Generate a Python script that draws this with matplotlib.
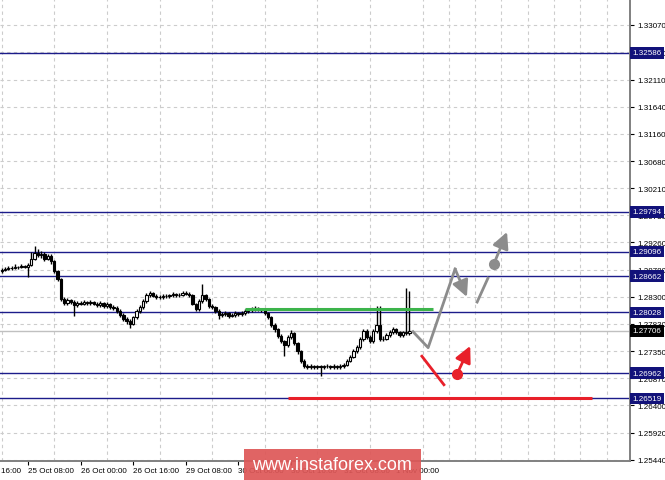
import matplotlib
matplotlib.use("Agg")
import matplotlib.pyplot as plt
from matplotlib.patches import Rectangle

plt.rcParams['font.family'] = ['Liberation Sans', 'DejaVu Sans']

# H1 bars, x = hours since 25 Oct 00:00 (trading hours only)
opens = [1.2876, 1.2877, 1.2879, 1.2881, 1.2881, 1.2883, 1.2882, 1.2884, 1.2883, 1.2886,
         1.2897, 1.2907, 1.2904, 1.2905, 1.2897, 1.2902, 1.2893, 1.2876, 1.2862, 1.2826,
         1.2819, 1.2825, 1.2821, 1.2816, 1.2819, 1.2818, 1.2821, 1.2819, 1.2821, 1.2818,
         1.2816, 1.2819, 1.2814, 1.2818, 1.2812, 1.2811, 1.2805, 1.2798, 1.2791, 1.2788,
         1.2783, 1.2795, 1.2805, 1.2812, 1.2823, 1.2833, 1.2837, 1.2832, 1.2830, 1.2830,
         1.2832, 1.2831, 1.2833, 1.2835, 1.2833, 1.2834, 1.2837, 1.2836, 1.2833, 1.2818,
         1.2809, 1.2823, 1.2833, 1.2826, 1.2814, 1.2812, 1.2805, 1.2798, 1.2800, 1.2802,
         1.2797, 1.2798, 1.2802, 1.2800, 1.2802, 1.2805, 1.2807, 1.2809, 1.2811, 1.2809,
         1.2807, 1.2802, 1.2795, 1.2781, 1.2774, 1.2762, 1.2753, 1.2746, 1.2760, 1.2767,
         1.2749, 1.2735, 1.2718, 1.2709, 1.2707, 1.2709, 1.2707, 1.2708, 1.2707, 1.2708,
         1.2709, 1.2707, 1.2709, 1.2707, 1.2709, 1.2711, 1.2718, 1.2725, 1.2735, 1.2742,
         1.2756, 1.2770, 1.2760, 1.2753, 1.2770, 1.2781, 1.2756, 1.2757, 1.2763, 1.2768,
         1.2774, 1.2768, 1.2763, 1.2768, 1.2767]
highs = [1.2880, 1.2882, 1.2884, 1.2885, 1.2887, 1.2885, 1.2888, 1.2886, 1.2890, 1.2908,
         1.2920, 1.2914, 1.2910, 1.2908, 1.2906, 1.2905, 1.2895, 1.2878, 1.2864, 1.2829,
         1.2828, 1.2827, 1.2824, 1.2822, 1.2822, 1.2824, 1.2823, 1.2824, 1.2823, 1.2821,
         1.2822, 1.2821, 1.2821, 1.2820, 1.2815, 1.2814, 1.2808, 1.2801, 1.2794, 1.2791,
         1.2797, 1.2808, 1.2815, 1.2826, 1.2837, 1.2841, 1.2839, 1.2835, 1.2834, 1.2835,
         1.2835, 1.2836, 1.2838, 1.2837, 1.2837, 1.2840, 1.2841, 1.2839, 1.2835, 1.2820,
         1.2826, 1.2853, 1.2836, 1.2828, 1.2817, 1.2814, 1.2808, 1.2803, 1.2805, 1.2804,
         1.2801, 1.2805, 1.2804, 1.2805, 1.2808, 1.2810, 1.2812, 1.2814, 1.2813, 1.2811,
         1.2809, 1.2804, 1.2797, 1.2784, 1.2776, 1.2765, 1.2755, 1.2763, 1.2772, 1.2769,
         1.2751, 1.2737, 1.2721, 1.2712, 1.2712, 1.2711, 1.2711, 1.2711, 1.2711, 1.2712,
         1.2711, 1.2712, 1.2711, 1.2712, 1.2714, 1.2721, 1.2728, 1.2738, 1.2746, 1.2760,
         1.2774, 1.2773, 1.2763, 1.2774, 1.2814, 1.2814, 1.2761, 1.2767, 1.2772, 1.2777,
         1.2776, 1.2770, 1.2771, 1.2846, 1.2840]
lows = [1.2872, 1.2875, 1.2877, 1.2878, 1.2879, 1.2879, 1.2880, 1.2880, 1.2865, 1.2884,
        1.2894, 1.2900, 1.2899, 1.2893, 1.2894, 1.2888, 1.2872, 1.2858, 1.2822, 1.2815,
        1.2816, 1.2818, 1.2796, 1.2813, 1.2815, 1.2815, 1.2816, 1.2816, 1.2815, 1.2813,
        1.2813, 1.2811, 1.2811, 1.2809, 1.2807, 1.2801, 1.2795, 1.2787, 1.2783, 1.2775,
        1.2780, 1.2792, 1.2802, 1.2809, 1.2820, 1.2830, 1.2829, 1.2827, 1.2827, 1.2827,
        1.2828, 1.2828, 1.2830, 1.2830, 1.2830, 1.2831, 1.2833, 1.2830, 1.2815, 1.2805,
        1.2806, 1.2820, 1.2822, 1.2810, 1.2808, 1.2801, 1.2792, 1.2794, 1.2797, 1.2793,
        1.2794, 1.2795, 1.2797, 1.2797, 1.2799, 1.2802, 1.2804, 1.2806, 1.2806, 1.2804,
        1.2799, 1.2791, 1.2777, 1.2769, 1.2758, 1.2749, 1.2726, 1.2743, 1.2757, 1.2745,
        1.2730, 1.2714, 1.2705, 1.2703, 1.2704, 1.2704, 1.2704, 1.2691, 1.2704, 1.2705,
        1.2704, 1.2704, 1.2704, 1.2704, 1.2706, 1.2708, 1.2715, 1.2722, 1.2731, 1.2739,
        1.2752, 1.2757, 1.2749, 1.2750, 1.2766, 1.2752, 1.2753, 1.2754, 1.2760, 1.2765,
        1.2765, 1.2760, 1.2760, 1.2763, 1.2764]
closes = [1.2877, 1.2879, 1.2881, 1.2881, 1.2883, 1.2882, 1.2884, 1.2883, 1.2886, 1.2897,
          1.2907, 1.2904, 1.2905, 1.2897, 1.2902, 1.2893, 1.2876, 1.2862, 1.2826, 1.2819,
          1.2825, 1.2821, 1.2816, 1.2819, 1.2818, 1.2821, 1.2819, 1.2821, 1.2818, 1.2816,
          1.2819, 1.2814, 1.2818, 1.2812, 1.2811, 1.2805, 1.2798, 1.2791, 1.2788, 1.2783,
          1.2795, 1.2805, 1.2812, 1.2823, 1.2833, 1.2837, 1.2832, 1.2830, 1.2830, 1.2832,
          1.2831, 1.2833, 1.2835, 1.2833, 1.2834, 1.2837, 1.2836, 1.2833, 1.2818, 1.2809,
          1.2823, 1.2833, 1.2826, 1.2814, 1.2812, 1.2805, 1.2798, 1.2800, 1.2802, 1.2797,
          1.2798, 1.2802, 1.2800, 1.2802, 1.2805, 1.2807, 1.2809, 1.2811, 1.2809, 1.2807,
          1.2802, 1.2795, 1.2781, 1.2774, 1.2762, 1.2753, 1.2746, 1.2760, 1.2767, 1.2749,
          1.2735, 1.2718, 1.2709, 1.2707, 1.2709, 1.2707, 1.2708, 1.2707, 1.2708, 1.2709,
          1.2707, 1.2709, 1.2707, 1.2709, 1.2711, 1.2718, 1.2725, 1.2735, 1.2742, 1.2756,
          1.2770, 1.2760, 1.2753, 1.2770, 1.2781, 1.2756, 1.2757, 1.2763, 1.2768, 1.2774,
          1.2768, 1.2763, 1.2768, 1.2767, 1.2771]

levels = [1.32586, 1.29794, 1.29096, 1.28662, 1.28028, 1.26962, 1.26519]
current_price = 1.27706

price_ticks = [1.33070, 1.32590, 1.32110, 1.31640, 1.31160, 1.30680, 1.30210, 1.29730,
               1.29260, 1.28780, 1.28300, 1.27830, 1.27350, 1.26870, 1.26400, 1.25920, 1.25440]
time_pos = [-8, 8, 24, 40, 56, 72, 88, 104, 120]
time_labels = ['24 Oct 16:00', '25 Oct 08:00', '26 Oct 00:00', '26 Oct 16:00', '29 Oct 08:00',
               '30 Oct 00:00', '30 Oct 16:00', '31 Oct 08:00', '1 Nov 00:00']

# drawn analysis
green_x = [74.0, 131.2]
green_y = [1.2809, 1.2809]
red_line_x = [87.1, 179.6]
red_line_y = [1.26519, 1.26519]
grey_path_x = [125.1, 129.7, 137.9]
grey_path_y = [1.2769, 1.2741, 1.2879]
grey_arrow1 = [(137.9, 1.2879), (141.5, 1.2830)]
grey_seg_x = [144.6, 147.9]
grey_seg_y = [1.2821, 1.2863]
grey_dot = (149.7, 1.2888)
grey_arrow2 = [(149.7, 1.2888), (153.7, 1.2944)]
red_seg_x = [127.8, 134.5]
red_seg_y = [1.2726, 1.2676]
red_dot = (138.5, 1.2695)
red_arrow = [(138.5, 1.2695), (142.5, 1.2744)]

navy = '#1c1c8a'
grey = '#8c8c8c'
red = '#e8202a'
fs = 5.8

fig = plt.figure(figsize=(6.65, 4.81), dpi=100)
ax = fig.add_axes([0, 19 / 481, 630 / 665, 462 / 481])
ax.set_xlim(-0.52, 191.1)
ax.set_ylim(1.25422, 1.33526)

# grid
ax.set_xticks(range(0, 192, 8), minor=True)
ax.grid(which='minor', axis='x', color='#cccccc', linestyle=(0, (3, 3)), lw=0.8)
ax.grid(which='major', axis='y', color='#cccccc', linestyle=(0, (3, 3)), lw=0.8)
ax.set_axisbelow(True)

# levels
for lev in levels:
    ax.axhline(lev, color=navy, lw=1, zorder=2)
ax.axhline(current_price, color='#c0c0c0', lw=1, zorder=1.5)

# candles
for i in range(len(closes)):
    o, hi, lo, c = opens[i], highs[i], lows[i], closes[i]
    ax.vlines(i, lo, hi, color='black', lw=1.0, zorder=3)
    fc = 'white' if c >= o else 'black'
    ax.bar(i, abs(c - o), bottom=min(o, c), width=0.7, facecolor=fc,
           edgecolor='black', lw=0.8, zorder=4)

# analysis drawings
ax.plot(green_x, green_y, color='#3cb44b', lw=2.2, solid_capstyle='butt', zorder=5)
ax.plot(red_line_x, red_line_y, color=red, lw=2.2, solid_capstyle='butt', zorder=5)
ax.plot(grey_path_x, grey_path_y, color=grey, lw=2, zorder=5)
ax.plot(grey_seg_x, grey_seg_y, color=grey, lw=2, zorder=5)
ax.plot(red_seg_x, red_seg_y, color=red, lw=2, zorder=5)
arrow_style = '-|>,head_length=0.7,head_width=0.35'
for (start, tip), col in [(grey_arrow1, grey), (grey_arrow2, grey), (red_arrow, red)]:
    ax.annotate('', xy=tip, xytext=start,
                arrowprops=dict(arrowstyle=arrow_style, color=col, lw=2,
                                mutation_scale=14, shrinkA=0, shrinkB=0), zorder=6)
ax.plot(*grey_dot, 'o', color=grey, ms=7, zorder=7)
ax.plot(*red_dot, 'o', color=red, ms=7, zorder=7)

# axes
for side in ['top', 'left']:
    ax.spines[side].set_visible(False)
for side in ['right', 'bottom']:
    ax.spines[side].set_color('#808080')
    ax.spines[side].set_linewidth(1.4)

ax.yaxis.tick_right()
ax.set_yticks(price_ticks, labels=[f'{t:.5f}' for t in price_ticks])
ax.tick_params(axis='y', length=3, width=0.8, color='black', labelsize=fs, pad=2)
ax.set_xticks(time_pos[1:], labels=[])
ax.tick_params(axis='x', which='major', length=3, width=0.8, color='black')
ax.tick_params(axis='x', which='minor', length=0)
for pos, lab in zip(time_pos, time_labels):
    ax.text(pos, -0.021, lab, transform=ax.get_xaxis_transform(), ha='left', va='center',
            fontsize=fs, clip_on=False)

# price boxes
for lev in levels:
    ax.text(1.0 + 2.5 / 630, lev, f'{lev:.5f}', transform=ax.get_yaxis_transform(),
            ha='left', va='center', fontsize=fs, color='white', zorder=8,
            bbox=dict(boxstyle='square,pad=0.3', fc='#12127a', ec='none'))
ax.text(1.0 + 2.5 / 630, current_price, f'{current_price:.5f}', transform=ax.get_yaxis_transform(),
        ha='left', va='center', fontsize=fs, color='white', zorder=8,
        bbox=dict(boxstyle='square,pad=0.3', fc='black', ec='none'))

# watermark
fig.patches.append(Rectangle((244 / 665, 0), 177 / 665, 31 / 481, transform=fig.transFigure,
                             facecolor='#de5757', alpha=0.92, zorder=10))
fig.text(332 / 665, 15 / 481, 'www.instaforex.com', color='white', fontsize=13,
         ha='center', va='center', zorder=11)

fig.savefig('out.png', dpi=100)
